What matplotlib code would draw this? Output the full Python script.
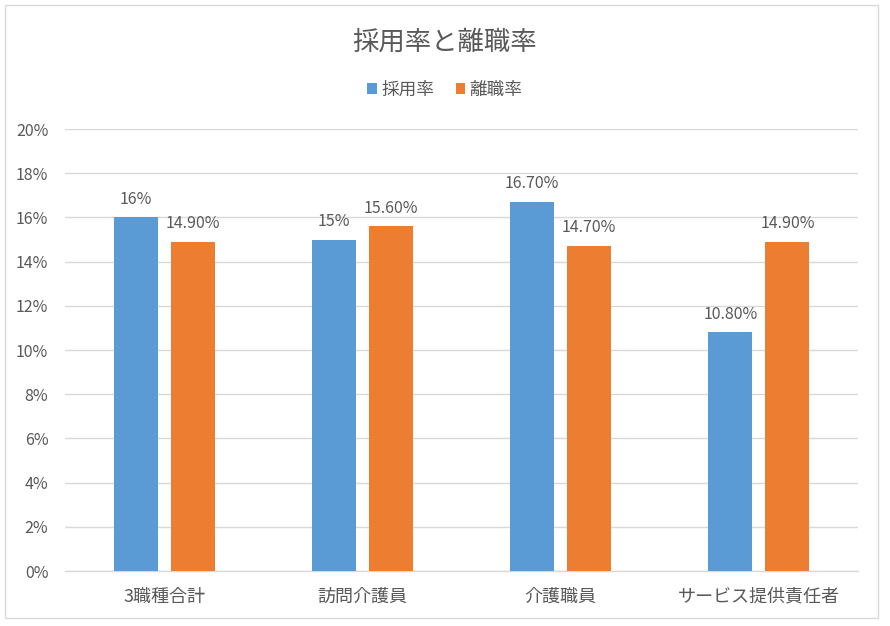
import matplotlib
matplotlib.use("Agg")
import matplotlib.pyplot as plt
import numpy as np
from matplotlib.patches import Rectangle

plt.rcParams['font.family'] = ['Noto Sans CJK JP', 'DejaVu Sans']

categories = ["3職種合計", "訪問介護員", "介護職員", "サービス提供責任者"]
hire_rate = [16.0, 15.0, 16.7, 10.8]
leave_rate = [14.9, 15.6, 14.7, 14.9]
hire_labels = ["16%", "15%", "16.70%", "10.80%"]
leave_labels = ["14.90%", "15.60%", "14.70%", "14.90%"]
series_names = ["採用率", "離職率"]
yticks = [0, 2, 4, 6, 8, 10, 12, 14, 16, 18, 20]

blue = "#5B9BD5"
orange = "#ED7D31"
txt = "#595959"

fig = plt.figure(figsize=(8.9, 6.26), dpi=100)
ax = fig.add_axes([65/890, 1-571/626, (858-65)/890, (571-129)/626])

x = np.arange(len(categories))
w = 0.222
off = 0.144
b1 = ax.bar(x - off, hire_rate, w, color=blue, label=series_names[0], zorder=3)
b2 = ax.bar(x + off, leave_rate, w, color=orange, label=series_names[1], zorder=3)

for bars, labs in ((b1, hire_labels), (b2, leave_labels)):
    for rect, lab in zip(bars, labs):
        ax.annotate(lab, (rect.get_x() + rect.get_width()/2, rect.get_height()),
                    xytext=(0, 7), textcoords="offset points", ha="center", va="bottom",
                    fontsize=11.5, color=txt)

ax.set_xlim(-0.5, len(categories) - 0.5)
ax.set_ylim(0, 20)
ax.set_yticks(yticks)
ax.set_yticklabels([f"{t}%" for t in yticks])
ax.set_xticks(x)
ax.set_xticklabels(categories, fontsize=13)
ax.yaxis.grid(True, color="#D9D9D9", linewidth=1, zorder=0)
ax.set_axisbelow(True)
for s in ["top", "right", "left"]:
    ax.spines[s].set_visible(False)
ax.spines["bottom"].set_color("#D9D9D9")
ax.spines["bottom"].set_linewidth(1)
ax.tick_params(axis="both", length=0, colors=txt)
ax.tick_params(axis="y", pad=12, labelsize=11.5)
ax.tick_params(axis="x", pad=12)

fig.text(0.5, 1-42/626, "採用率と離職率", ha="center", va="center", fontsize=19, color=txt)
fig.legend(handles=[b1, b2], labels=series_names, loc="center", bbox_to_anchor=(0.5, 1-90/626),
           ncol=2, frameon=False, fontsize=12.7, labelcolor=txt, handlelength=0.55, handleheight=0.55,
           handletextpad=0.25, columnspacing=1.2)

fig.patches.append(Rectangle((5/890, 1-618/626), 873/890, 613/626, transform=fig.transFigure,
                             fill=False, edgecolor="#D9D9D9", linewidth=1))

fig.savefig("out.png", dpi=100)
